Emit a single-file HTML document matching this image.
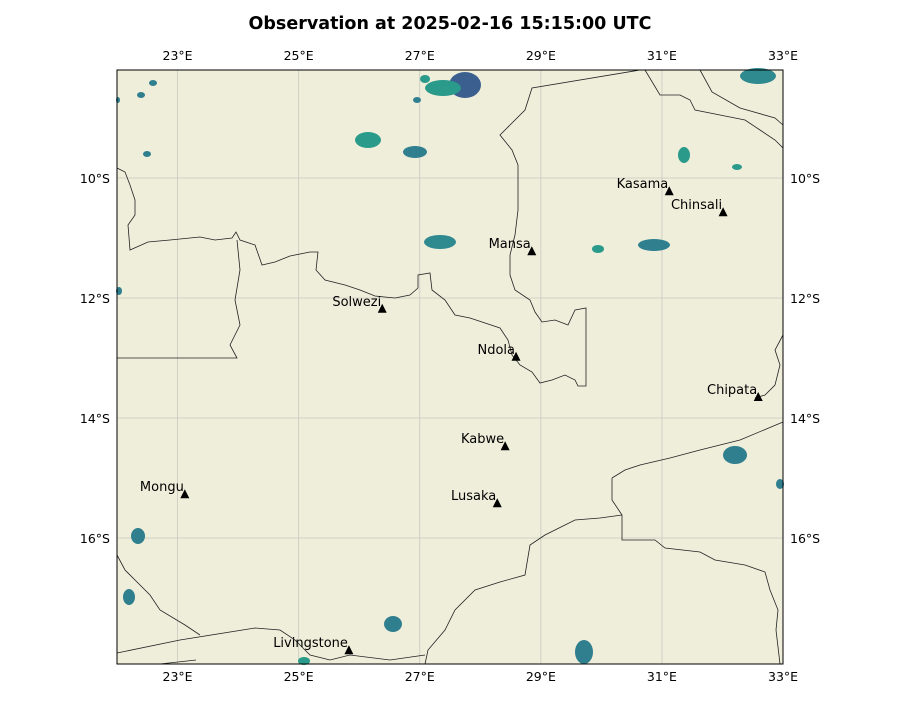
<!DOCTYPE html>
<html><head><meta charset="utf-8"><style>
body{margin:0;background:#fff;font-family:"DejaVu Sans","Liberation Sans",sans-serif}
</style></head><body>
<svg id="map" width="900" height="700" xmlns="http://www.w3.org/2000/svg">
<text x="450" y="29" text-anchor="middle" font-size="17.5" font-weight="bold">Observation at 2025-02-16 15:15:00 UTC</text>
<rect x="117" y="70" width="666" height="594" fill="#efeedb"/>
<g id="grid"></g>
<g id="blobs"></g>
<g id="borders" fill="none" stroke="#222" stroke-width="0.8"></g>
<g id="cities"></g>
<rect x="117" y="70" width="666" height="594" fill="none" stroke="#000" stroke-width="1"/>
<g id="ticks" font-size="12.5"></g>
</svg>
<script>
const lonTicks=[23,25,27,29,31,33];
const latTicks=[10,12,14,16];
const cityNames=["Kasama","Chinsali","Mansa","Solwezi","Ndola","Chipata","Kabwe","Mongu","Lusaka","Livingstone"];
const cityLon=[31.12,32.01,28.85,26.38,28.59,32.59,28.41,23.12,28.28,25.83];
const cityLat=[-10.22,-10.57,-11.22,-12.18,-12.98,-13.65,-14.47,-15.27,-15.42,-17.87];
const NS="http://www.w3.org/2000/svg";
const X=lon=>117+(lon-22)*60.55;
const Y=lat=>178+(-lat-10)*60;
function mk(t,a,p){const e=document.createElementNS(NS,t);for(const k in a)e.setAttribute(k,a[k]);p.appendChild(e);return e;}
const grid=document.getElementById('grid'),ticks=document.getElementById('ticks');
lonTicks.forEach(l=>{
 const ln=mk('line',{x1:X(l),x2:X(l),y1:70,y2:664,stroke:'#c8c8c0','stroke-width':0.8},grid);
 
 [60,681].forEach(y=>{const t=mk('text',{x:X(l),y:y,'text-anchor':'middle'},ticks);t.textContent=l+'°E';
 });
});
latTicks.forEach(l=>{
 const ln=mk('line',{x1:117,x2:783,y1:Y(-l),y2:Y(-l),stroke:'#c8c8c0','stroke-width':0.8},grid);
 
 const a=mk('text',{x:110,y:Y(-l)+5,'text-anchor':'end'},ticks);a.textContent=l+'°S';
 
 const b=mk('text',{x:790,y:Y(-l)+5},ticks);b.textContent=l+'°S';
 
});
const blobs=[[465,85,16,13,'#3b6090'],[443,88,18,8,'#2a9a8a'],[425,79,5,4,'#2a9a8a'],[417,100,4,3,'#2f7f8f'],[368,140,13,8,'#2a9a8a'],[415,152,12,6,'#2f7f8f'],[440,242,16,7,'#2f8a90'],[654,245,16,6,'#2f7f8f'],[598,249,6,4,'#2a9a8a'],[684,155,6,8,'#2a9a8a'],[737,167,5,3,'#2a9a8a'],[758,76,18,8,'#2f8a90'],[735,455,12,9,'#2f7f8f'],[780,484,4,5,'#2f7f8f'],[138,536,7,8,'#2f7f8f'],[129,597,6,8,'#2f7f8f'],[393,624,9,8,'#2f7f8f'],[304,661,6,4,'#2a9a8a'],[584,652,9,12,'#2f7f8f'],[147,154,4,3,'#2f7f8f'],[141,95,4,3,'#2f7f8f'],[153,83,4,3,'#2f7f8f'],[118,100,2,3,'#2f7f8f'],[119,291,3,4,'#2f7f8f']];
const bg=document.getElementById('blobs');
blobs.forEach(b=>{const e=mk('ellipse',{cx:b[0],cy:b[1],rx:b[2],ry:b[3],fill:b[4]},bg);
 });
const borders=[
"117,168 125,172 130,185 135,200 135,215 128,225 130,250 148,242 170,240 200,237 215,240 232,238 236,232 240,240 255,245 262,265 275,262 290,256 310,252 318,252 316,270 325,280 345,285 360,290 375,296 395,298 410,295 418,288 418,275 430,273 432,290 445,300 455,315 470,318 485,323 500,328 508,340 512,355 520,365 532,372 540,383 552,380 565,375 575,380 578,386 586,386 586,308 575,310 568,325 555,320 542,322 535,312 530,300 515,290 510,275 510,255 515,235 518,210 518,165 512,150 500,135 510,125 525,110 532,88 640,70",
"645,70 660,95 680,95 690,100 695,110 720,115 745,120 760,130 775,140 783,148",
"700,70 712,92 740,108 775,118 783,125",
"783,335 775,350 780,365 775,385 765,395 755,398",
"612,478 625,470 640,465 670,458 700,450 740,440 783,422",
"612,478 612,500 622,515 622,540 655,540 665,548 700,552 715,560 745,565 765,572 770,590 778,610 776,630 780,664",
"425,664 428,650 445,630 455,610 475,590 500,582 525,575 530,545 545,535 575,520 600,518 622,515",
"117,358 237,358 230,345 240,325 235,300 240,270 237,240",
"117,653 180,640 255,628 280,630 295,640 310,655 330,660 350,655 390,660 425,655",
"117,555 125,570 135,580 150,595 160,610 185,625 200,635",
"160,664 196,660"];
const bd=document.getElementById('borders');
borders.forEach(p=>{const e=mk('polyline',{points:p},bd);
 });
const cg=document.getElementById('cities');
cityNames.forEach((n,i)=>{const x=X(cityLon[i]),y=Y(cityLat[i]);
 const m=mk('path',{d:`M${x},${y-5} L${x+4.5},${y+4} L${x-4.5},${y+4} Z`,fill:'#000'},cg);
 
 const t=mk('text',{x:x-1,y:y-3,'text-anchor':'end','font-size':13},cg);t.textContent=n;
 });
</script>
</body></html>
